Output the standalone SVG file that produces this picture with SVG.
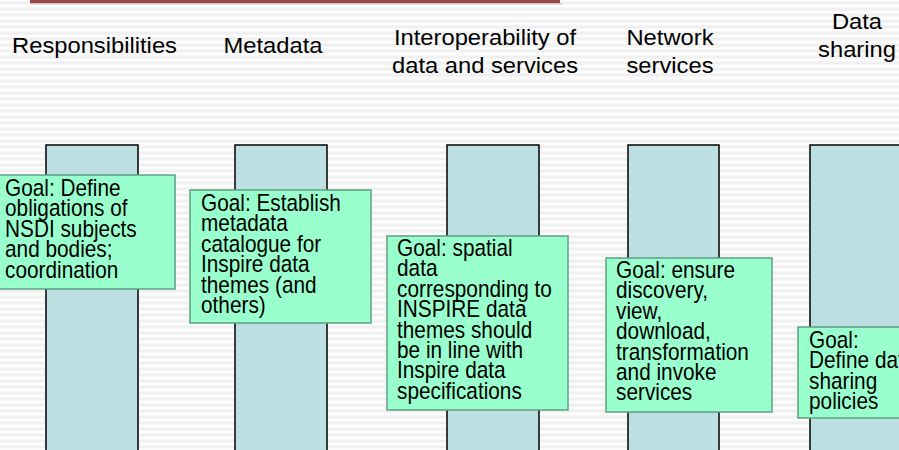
<svg xmlns="http://www.w3.org/2000/svg" width="899" height="450" viewBox="0 0 899 450">
  <defs>
    <linearGradient id="stripeGrad" x1="0" y1="0" x2="0" y2="1">
      <stop offset="0" stop-color="#ffffff"/>
      <stop offset="0.5" stop-color="#ededed"/>
      <stop offset="1" stop-color="#ffffff"/>
    </linearGradient>
    <pattern id="stripes" x="0" y="0" width="10" height="6" patternUnits="userSpaceOnUse">
      <rect x="0" y="0" width="10" height="6" fill="url(#stripeGrad)"/>
    </pattern>
    <linearGradient id="barShadow" x1="0" y1="0" x2="0" y2="1">
      <stop offset="0" stop-color="#c9a0a0"/>
      <stop offset="1" stop-color="#ffffff" stop-opacity="0"/>
    </linearGradient>
  </defs>
  <style>
    .hdr { font-family: "Liberation Sans", Arial, sans-serif; font-size: 22px; fill: #000; text-anchor: middle; }
    .goal { font-family: "Liberation Sans", Arial, sans-serif; font-size: 20.8px; fill: #000; }
    .pillar { fill: #bcdfe1; stroke: #000; stroke-width: 1.5; }
    .box { fill: #99ffcc; stroke: #5f9f86; stroke-width: 1.5; }
  </style>

  <rect x="0" y="0" width="899" height="450" fill="url(#stripes)"/>

  <!-- top bar -->
  <rect x="30" y="3" width="532" height="3" fill="url(#barShadow)"/>
  <rect x="30" y="-3" width="530" height="6" fill="#9a4848"/>

  <!-- headers -->
  <g id="headers">
    <text class="hdr" transform="translate(94.5,52.5) scale(1.08,1)">Responsibilities</text>
    <text class="hdr" transform="translate(273,52.5) scale(1.08,1)">Metadata</text>
    <text class="hdr" transform="translate(485,45) scale(1.08,1)">Interoperability of</text>
    <text class="hdr" transform="translate(485,72.7) scale(1.08,1)">data and services</text>
    <text class="hdr" transform="translate(670,45) scale(1.08,1)">Network</text>
    <text class="hdr" transform="translate(670,72.7) scale(1.08,1)">services</text>
    <text class="hdr" transform="translate(857,29) scale(1.08,1)">Data</text>
    <text class="hdr" transform="translate(857,57) scale(1.08,1)">sharing</text>
  </g>

  <!-- pillars -->
  <g id="pillar-responsibilities"><rect class="pillar" x="46" y="145" width="92" height="320"/></g>
  <g id="pillar-metadata"><rect class="pillar" x="235" y="145" width="92" height="320"/></g>
  <g id="pillar-interoperability"><rect class="pillar" x="447" y="145" width="92" height="320"/></g>
  <g id="pillar-network"><rect class="pillar" x="628" y="145" width="91" height="320"/></g>
  <g id="pillar-sharing"><rect class="pillar" x="810" y="145" width="100" height="320"/></g>

  <!-- goal boxes -->
  <g id="goal-responsibilities">
    <rect class="box" x="-1" y="175" width="176" height="114"/>
    <text class="goal" transform="translate(5,196) scale(1,1.12)">
      <tspan x="0" y="0">Goal: Define</tspan>
      <tspan x="0" dy="18.2">obligations of</tspan>
      <tspan x="0" dy="18.2">NSDI subjects</tspan>
      <tspan x="0" dy="18.2">and bodies;</tspan>
      <tspan x="0" dy="18.2">coordination</tspan>
    </text>
  </g>

  <g id="goal-metadata">
    <rect class="box" x="190" y="190" width="181" height="133"/>
    <text class="goal" transform="translate(201,211) scale(1,1.12)">
      <tspan x="0" y="0">Goal: Establish</tspan>
      <tspan x="0" dy="18.2">metadata</tspan>
      <tspan x="0" dy="18.2">catalogue for</tspan>
      <tspan x="0" dy="18.2">Inspire data</tspan>
      <tspan x="0" dy="18.2">themes (and</tspan>
      <tspan x="0" dy="18.2">others)</tspan>
    </text>
  </g>

  <g id="goal-interoperability">
    <rect class="box" x="387" y="236" width="181" height="174"/>
    <text class="goal" transform="translate(397,256) scale(1,1.12)">
      <tspan x="0" y="0">Goal: spatial</tspan>
      <tspan x="0" dy="18.2">data</tspan>
      <tspan x="0" dy="18.2">corresponding to</tspan>
      <tspan x="0" dy="18.2">INSPIRE data</tspan>
      <tspan x="0" dy="18.2">themes should</tspan>
      <tspan x="0" dy="18.2">be in line with</tspan>
      <tspan x="0" dy="18.2">Inspire data</tspan>
      <tspan x="0" dy="18.2">specifications</tspan>
    </text>
  </g>

  <g id="goal-network">
    <rect class="box" x="606" y="258" width="166" height="154"/>
    <text class="goal" transform="translate(616,278) scale(1,1.12)">
      <tspan x="0" y="0">Goal: ensure</tspan>
      <tspan x="0" dy="18.2">discovery,</tspan>
      <tspan x="0" dy="18.2">view,</tspan>
      <tspan x="0" dy="18.2">download,</tspan>
      <tspan x="0" dy="18.2">transformation</tspan>
      <tspan x="0" dy="18.2">and invoke</tspan>
      <tspan x="0" dy="18.2">services</tspan>
    </text>
  </g>

  <g id="goal-sharing">
    <rect class="box" x="798" y="327" width="120" height="91"/>
    <text class="goal" transform="translate(809,348) scale(1,1.12)">
      <tspan x="0" y="0">Goal:</tspan>
      <tspan x="0" dy="18.2">Define data</tspan>
      <tspan x="0" dy="18.2">sharing</tspan>
      <tspan x="0" dy="18.2">policies</tspan>
    </text>
  </g>

  <g id="connectors"></g>
</svg>
